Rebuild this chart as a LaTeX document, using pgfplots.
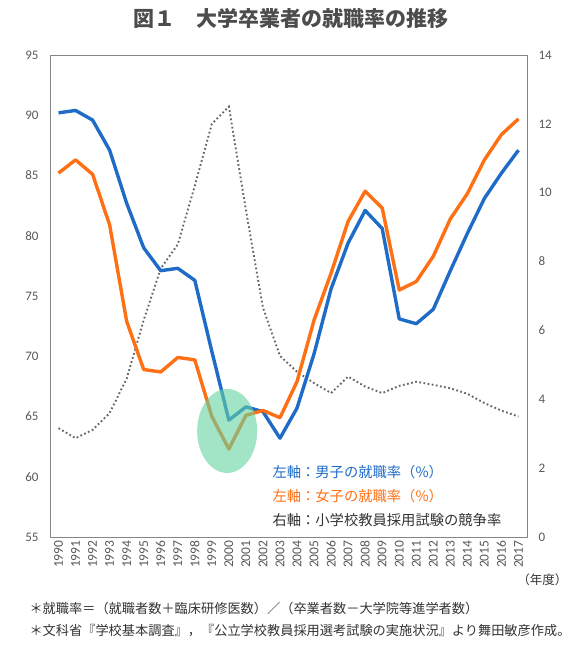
\documentclass[border=0pt]{standalone}
\usepackage{fontspec}
\setmainfont{Noto Sans CJK JP}
\newfontfamily\tickfont{Carlito}
\usepackage{pgfplots}
\usepackage{pgfplotstable}
\pgfplotsset{compat=1.18}
\definecolor{mblue}{RGB}{31,108,200}
\definecolor{forange}{RGB}{255,112,20}
\definecolor{dgray}{RGB}{100,100,100}
\definecolor{tgray}{RGB}{89,89,89}
\definecolor{frame}{RGB}{134,134,134}
\definecolor{mint}{RGB}{100,210,160}

\pgfplotstableread{
year male female ratio
1990 90.2 85.2 3.16
1991 90.4 86.3 2.87
1992 89.6 85.1 3.11
1993 87.1 80.9 3.60
1994 82.7 72.9 4.60
1995 79.0 68.9 6.30
1996 77.1 68.7 7.80
1997 77.3 69.9 8.50
1998 76.3 69.7 10.20
1999 70.4 65.0 12.00
2000 64.7 62.3 12.50
2001 65.8 65.1 9.50
2002 65.4 65.5 6.66
2003 63.2 64.9 5.26
2004 65.7 67.9 4.80
2005 70.2 73.0 4.47
2006 75.6 76.9 4.18
2007 79.4 81.2 4.66
2008 82.1 83.7 4.37
2009 80.6 82.3 4.18
2010 73.1 75.5 4.39
2011 72.7 76.2 4.51
2012 73.9 78.3 4.42
2013 77.1 81.4 4.32
2014 80.2 83.5 4.16
2015 83.1 86.3 3.89
2016 85.2 88.4 3.67
2017 87.1 89.7 3.50
}\datatable

\begin{document}
\begin{tikzpicture}[x=1pt,y=1pt]
\path[use as bounding box] (0,0) rectangle (580,-646);
\node[font=\fontsize{21}{21}\selectfont\bfseries, text=black!70] at (291,-19) {図１　大学卒業者の就職率の推移};

% right axis: competition ratio
\begin{axis}[
  at={(50pt,-537pt)}, anchor=south west,
  scale only axis, width=477pt, height=482pt,
  xmin=1989.5, xmax=2017.5, ymin=0, ymax=14,
  ytick={0,2,...,14},
  axis x line=none, axis y line*=right,
  y axis line style={draw=frame, line width=1pt, -},
  major tick length=0pt,
  /pgf/number format/assume math mode=true,
  yticklabel style={font=\tickfont\fontsize{13}{13}\selectfont, text=tgray, xshift=8pt},
]
\addplot[dgray, line width=1.9pt, dash pattern=on 1.7pt off 2.5pt, line cap=butt] table[x=year, y=ratio] {\datatable};
\end{axis}

% left axis: employment rates
\begin{axis}[
  at={(50pt,-537pt)}, anchor=south west,
  scale only axis, width=477pt, height=482pt,
  xmin=1989.5, xmax=2017.5, ymin=55, ymax=95,
  xtick={1990,...,2017}, ytick={55,60,...,95},
  axis line style={draw=frame, line width=1pt},
  tick pos=left, major tick length=0pt,
  /pgf/number format/assume math mode=true,
  /pgf/number format/1000 sep={},
  yticklabel style={font=\tickfont\fontsize{13}{13}\selectfont, text=tgray, xshift=-8pt},
  xticklabel style={font=\tickfont\fontsize{13.5}{13.5}\selectfont, text=tgray, rotate=90, anchor=east},
  clip=false,
]
\addplot[mblue, line width=3.4pt, line join=round] table[x=year, y=male] {\datatable};
\addplot[forange, line width=3.4pt, line join=round] table[x=year, y=female] {\datatable};
\fill[mint, opacity=0.6] (axis cs:1999.9,63.8) ellipse [x radius=30pt, y radius=42pt];
\end{axis}

\node[anchor=west, text=mblue, font=\fontsize{14.3}{14.3}\selectfont] at (269,-472) {左軸：男子の就職率（\%）};
\node[anchor=west, text=forange, font=\fontsize{14.3}{14.3}\selectfont] at (269,-496) {左軸：女子の就職率（\%）};
\node[anchor=west, text=black!80, font=\fontsize{14.3}{14.3}\selectfont] at (269,-520) {右軸：小学校教員採用試験の競争率};

\node[anchor=east, text=black!80, font=\fontsize{12.5}{12.5}\selectfont] at (571,-580) {（年度）};
\node[anchor=west, text=black!80, font=\fontsize{13.2}{13.2}\selectfont] at (26,-608) {＊就職率＝（就職者数＋臨床研修医数）／（卒業者数－大学院等進学者数）};
\node[anchor=west, text=black!80, font=\fontsize{13.2}{13.2}\selectfont] at (26,-631) {＊文科省『学校基本調査』，『公立学校教員採用選考試験の実施状況』より舞田敏彦作成。};
\end{tikzpicture}
\end{document}
